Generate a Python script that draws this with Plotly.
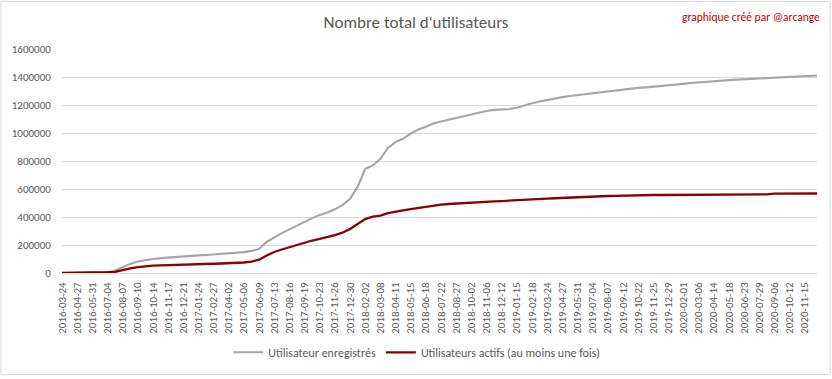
import pandas as pd
import plotly.graph_objects as go

tick_labels = [
    "2016-03-24", "2016-04-27", "2016-05-31", "2016-07-04", "2016-08-07", "2016-09-10",
    "2016-10-14", "2016-11-17", "2016-12-21",
    "2017-01-24", "2017-02-27", "2017-04-02", "2017-05-06", "2017-06-09", "2017-07-13",
    "2017-08-16", "2017-09-19", "2017-10-23", "2017-11-26", "2017-12-30",
    "2018-02-02", "2018-03-08", "2018-04-11", "2018-05-15", "2018-06-18", "2018-07-22",
    "2018-08-27", "2018-10-02", "2018-11-06", "2018-12-12",
    "2019-01-15", "2019-02-18", "2019-03-24", "2019-04-27", "2019-05-31", "2019-07-04",
    "2019-08-07", "2019-09-12", "2019-10-22", "2019-11-25", "2019-12-29",
    "2020-02-01", "2020-03-06", "2020-04-14", "2020-05-18", "2020-06-23", "2020-07-29",
    "2020-09-06", "2020-10-12", "2020-11-15",
]

# Sample dates: every labelled date plus the date half-way to the next one
_lab = pd.to_datetime(tick_labels)
_ext = list(_lab) + [_lab[-1] + pd.Timedelta(days=34)]
sample_dates = []
for a, b in zip(_ext[:-1], _ext[1:]):
    sample_dates.append(a.strftime("%Y-%m-%d"))
    sample_dates.append((a + (b - a) / 2).strftime("%Y-%m-%d"))
sample_dates.append(_ext[-1].strftime("%Y-%m-%d"))

registered = [
    0, 500, 1500, 4000, 5000, 5500, 6000, 18000, 43000, 65000,
    82000, 93000, 100000, 106000, 111000, 115000, 119000, 123000, 126000, 129000,
    132000, 136000, 139000, 143000, 149000, 158000, 172000, 222000, 255000, 285000,
    312000, 340000, 366000, 392000, 415000, 432000, 455000, 485000, 530000, 615000,
    745000, 768000, 815000, 893000, 935000, 960000, 995000, 1025000, 1045000, 1068000,
    1082000, 1095000, 1110000, 1122000, 1135000, 1147000, 1157000, 1165000, 1168000, 1171000,
    1180000, 1198000, 1212000, 1225000, 1237000, 1247000, 1256000, 1264000, 1271000, 1278000,
    1284000, 1290000, 1297000, 1304000, 1311000, 1317000, 1322000, 1326000, 1330000, 1336000,
    1341000, 1346000, 1351000, 1357000, 1362000, 1366000, 1370000, 1374000, 1378000, 1381000,
    1384000, 1387000, 1390000, 1393000, 1396000, 1399000, 1402000, 1404000, 1407000, 1410000,
    1412000,
]

active = [
    0, 300, 1000, 3500, 4500, 5000, 5500, 8000, 22000, 33000,
    42000, 48000, 52000, 54000, 55000, 56000, 57000, 59000, 62000, 64000,
    66000, 68000, 70000, 72000, 75000, 82000, 95000, 125000, 150000, 168000,
    185000, 202000, 218000, 232000, 243000, 256000, 270000, 288000, 315000, 350000,
    385000, 402000, 410000, 428000, 440000, 448000, 457000, 465000, 475000, 482000,
    488000, 493000, 497000, 500000, 503000, 507000, 510000, 512000, 514000, 516000,
    519000, 522000, 525000, 528000, 531000, 534000, 537000, 540000, 542000, 544000,
    546000, 548000, 550000, 551000, 553000, 554000, 555000, 556000, 557000, 557000,
    557000, 557000, 558000, 561000, 562000, 562000, 562000, 562000, 562000, 562000,
    562000, 562000, 562000, 562000, 567000, 567000, 567000, 568000, 568000, 568000,
    568000,
]

y_ticks = [0, 200000, 400000, 600000, 800000, 1000000, 1200000, 1400000, 1600000]

FONT = "Calibri, Carlito, Lato, sans-serif"
TXT = "#595959"
GRID = "#D9D9D9"

fig = go.Figure()
fig.add_trace(go.Scatter(
    x=sample_dates, y=registered, mode="lines", name="Utilisateur enregistrés",
    line=dict(color="#A5A5A5", width=2.1),
))
fig.add_trace(go.Scatter(
    x=sample_dates, y=active, mode="lines", name="Utilisateurs actifs (au moins une fois)",
    line=dict(color="#8B0000", width=2.3),
))

fig.update_layout(
    width=832, height=379,
    margin=dict(l=62, r=15, t=49, b=104),
    paper_bgcolor="white", plot_bgcolor="white",
    font=dict(family=FONT, color=TXT, size=12),
    title=dict(text="Nombre total d'utilisateurs", x=0.5, xref="container", xanchor="center",
               y=1 - 22 / 379, yref="container", yanchor="middle",
               font=dict(family=FONT, size=17, color=TXT)),
    showlegend=True,
    legend=dict(orientation="h", x=0.47, xanchor="center", y=-0.354, yanchor="middle",
                font=dict(size=12, color=TXT), itemwidth=30, bgcolor="rgba(0,0,0,0)"),
    xaxis=dict(type="category", categoryorder="array", categoryarray=sample_dates,
               range=[0, 99.6], tickmode="array", tickvals=tick_labels, ticktext=tick_labels,
               tickangle=-90, tickfont=dict(size=11, color=TXT, family=FONT),
               showgrid=False, showline=False, zeroline=False,
               ticks="outside", ticklen=4, tickcolor="rgba(0,0,0,0)"),
    yaxis=dict(range=[0, 1600000], tickvals=y_ticks, tickformat="d",
               tickfont=dict(size=11, color=TXT, family=FONT),
               showgrid=True, gridcolor=GRID, gridwidth=1,
               zeroline=True, zerolinecolor=GRID, zerolinewidth=1, showline=False,
               ticks="outside", ticklen=8, tickcolor="rgba(0,0,0,0)"),
    annotations=[dict(text="graphique créé par @arcange", xref="paper", yref="paper",
                      x=(822 - 62) / 755, y=(275 - 17) / 226, xanchor="right", yanchor="middle",
                      showarrow=False, font=dict(family=FONT, size=11.5, color="#C00000"))],
    shapes=[dict(type="rect", xref="paper", yref="paper",
                 x0=(1 - 62) / 755, x1=(830 - 62) / 755,
                 y0=(275 - 377.5) / 226, y1=(275 - 1) / 226,
                 line=dict(color=GRID, width=1), fillcolor="rgba(0,0,0,0)", layer="below")],
)

fig.write_html("out.html", config={"displayModeBar": False},
               post_script="document.body.style.margin='0';document.body.style.overflow='hidden';")
